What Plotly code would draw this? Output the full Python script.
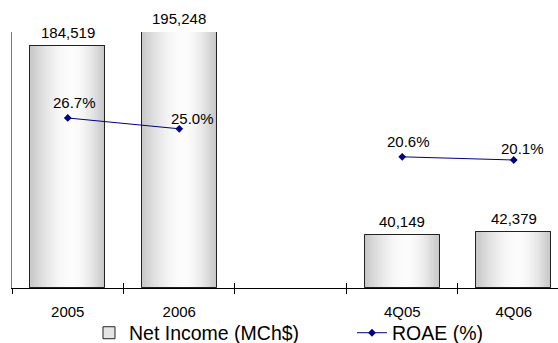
import math
import plotly.graph_objects as go

# Net income (MCh$) and return on average equity (%) by period
categories = ["2005", "2006", " ", "4Q05", "4Q06"]
net_income = [184519, 195248, None, 40149, 42379]
roae = [26.7, 25.0, None, 20.6, 20.1]

# pixel offsets of the ROAE value labels relative to their points
roae_label_shift = [(7, 15), (13, 10), None, (6, 15), (9, 12)]

FONT = "Liberation Sans, Arial, sans-serif"
BAR_WIDTH = 0.67
N_STRIPS = 48


def shade(t):
    """Grey level of the cylinder-style horizontal gradient at t in [0, 1]."""
    peak = 0.56
    u = (t - peak) / (peak if t < peak else 1 - peak)
    level = 198 + 54 * math.cos(u * math.pi / 2)
    g = int(round(level))
    return f"rgb({g},{g},{g})"


fig = go.Figure()

# base bar (also provides the legend entry)
fig.add_trace(go.Bar(
    x=categories, y=net_income, name="Net Income (MCh$)",
    width=BAR_WIDTH, marker=dict(color="#e4e4e4", line=dict(color="#222", width=1)),
    hoverinfo="skip",
))

# gradient fill built from thin vertical strips
step = BAR_WIDTH / N_STRIPS
for i in range(N_STRIPS):
    t = (i + 0.5) / N_STRIPS
    fig.add_trace(go.Bar(
        x=categories, y=net_income, width=step * 1.15,
        offset=-BAR_WIDTH / 2 + i * step,
        marker=dict(color=shade(t), line=dict(width=0)),
        showlegend=False, hoverinfo="skip",
    ))

# outline on top of the strips
fig.add_trace(go.Bar(
    x=categories, y=net_income, width=BAR_WIDTH,
    marker=dict(color="rgba(0,0,0,0)", line=dict(color="#222", width=1)),
    showlegend=False, hoverinfo="skip",
))

# ROAE line on the secondary axes
fig.add_trace(go.Scatter(
    x=categories, y=roae, name="ROAE (%)", xaxis="x2", yaxis="y2",
    mode="lines+markers", connectgaps=False,
    line=dict(color="#000080", width=1),
    marker=dict(symbol="diamond", size=6, color="#000080"),
    hoverinfo="skip",
))

# value labels; annotations refer to categories by index
annotations = []
for i, v in enumerate(net_income):
    if v is None:
        continue
    annotations.append(dict(
        x=i, y=v, xref="x", yref="y", text=f"{v:,}", showarrow=False,
        yshift=14, font=dict(family=FONT, size=15, color="#000"),
    ))
for i, (v, s) in enumerate(zip(roae, roae_label_shift)):
    if v is None:
        continue
    annotations.append(dict(
        x=i, y=v, xref="x2", yref="y2", text=f"{v:.1f}%", showarrow=False,
        xshift=s[0], yshift=s[1], font=dict(family=FONT, size=15, color="#000"),
    ))

x_range = [-0.5, 4.397]
fig.update_layout(
    width=558, height=343, autosize=False,
    margin=dict(l=12, r=0, t=32, b=55, autoexpand=False),
    paper_bgcolor="white", plot_bgcolor="white",
    barmode="overlay", bargap=0,
    font=dict(family=FONT, color="#000"),
    showlegend=True,
    legend=dict(
        orientation="h", x=0.141, xanchor="left", y=-0.176, yanchor="middle",
        font=dict(family=FONT, size=19.5, color="#000"),
        bgcolor="rgba(0,0,0,0)", traceorder="normal",
        entrywidth=218, entrywidthmode="pixels",
    ),
    xaxis=dict(
        type="category", categoryorder="array", categoryarray=categories,
        range=x_range, tickson="boundaries", ticks="outside", ticklen=5,
        tickcolor="#000", showline=True, linecolor="#000", linewidth=1,
        showgrid=False, zeroline=False, ticklabelstandoff=10,
        tickfont=dict(family=FONT, size=15, color="#000"),
    ),
    xaxis2=dict(
        type="category", categoryorder="array", categoryarray=categories,
        overlaying="x", anchor="y", matches="x", range=x_range,
        tickson="boundaries", ticks="inside", ticklen=5, tickcolor="#000",
        showticklabels=False, showline=False, showgrid=False, zeroline=False,
    ),
    yaxis=dict(
        range=[0, 195400], showline=True, linecolor="#777", linewidth=1,
        ticks="", showticklabels=False, showgrid=False, zeroline=False,
    ),
    yaxis2=dict(
        range=[0, 40.2], overlaying="y", anchor="x2", side="right",
        visible=False, showgrid=False, zeroline=False,
    ),
    annotations=annotations,
)

fig.write_html("out.html")
